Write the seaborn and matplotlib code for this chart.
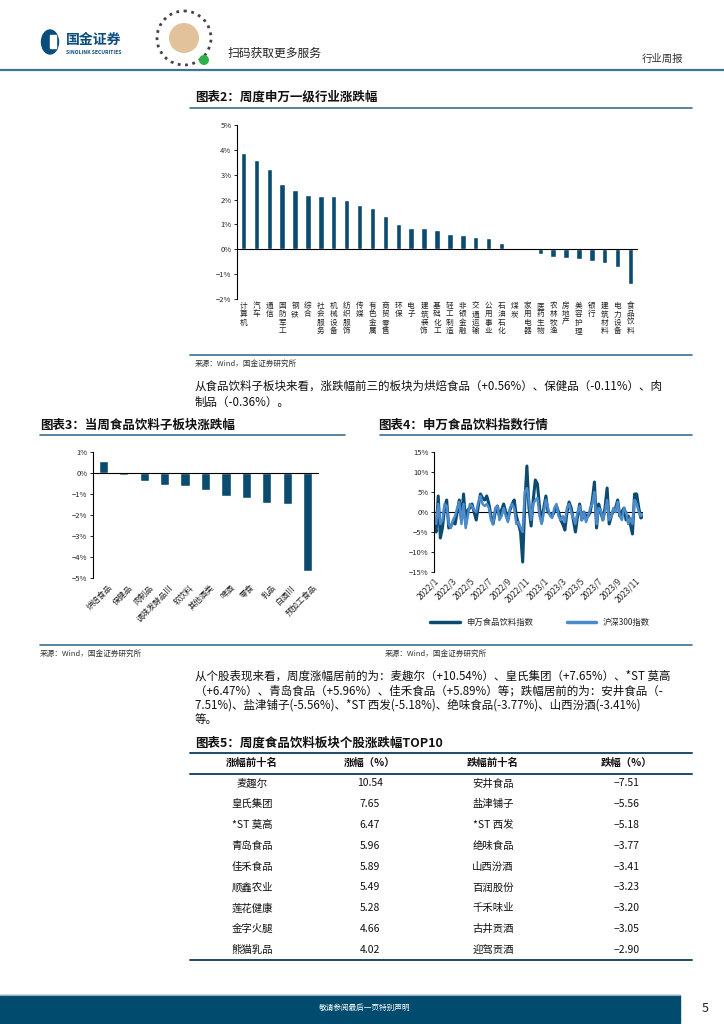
import numpy as np
import pandas as pd
import seaborn as sns
import matplotlib.pyplot as plt
import matplotlib.transforms as mtransforms
from matplotlib.lines import Line2D
from matplotlib.patches import Rectangle, Circle, Ellipse

# ---- 数据 ----
ind_names = ['计算机', '汽车', '通信', '国防军工', '钢铁', '综合', '社会服务', '机械设备',
             '纺织服饰', '传媒', '有色金属', '商贸零售', '环保', '电子', '建筑装饰', '基础化工',
             '轻工制造', '非银金融', '交通运输', '公用事业', '石油石化', '煤炭', '家用电器',
             '医药生物', '农林牧渔', '房地产', '美容护理', '银行', '建筑材料', '电力设备', '食品饮料']
ind_chg = [3.88, 3.61, 3.21, 2.62, 2.40, 2.20, 2.15, 2.13, 2.00, 1.80, 1.68, 1.34, 1.02,
           0.86, 0.85, 0.77, 0.63, 0.58, 0.48, 0.46, 0.27, 0.01, -0.04, -0.20, -0.31, -0.35,
           -0.40, -0.48, -0.55, -0.71, -1.40]

sub_names = ['烘焙食品', '保健品', '肉制品', '调味发酵品Ⅲ', '软饮料', '其他酒类', '啤酒',
             '零食', '乳品', '白酒Ⅲ', '预加工食品']
sub_chg = [0.56, -0.11, -0.36, -0.59, -0.60, -0.79, -1.11, -1.17, -1.43, -1.49, -4.67]

# 周度涨跌幅(%), 2022/1 起
sw_food = [-3, -5, 4, -6.5, -4, 1, 3, -4, -3.5, -2.5, -3, 0, 3, -2, 4.5, -3, 0.5, 1, 2, 0,
           -2, 1.5, 4.5, 3.5, 3, 4, 2, -1, -3, 0, 1.5, -1, 0.5, 2, 0, -2, 0.5, 2, 3, -1,
           -3, -5, -12.5, 2, 11.5, 1, -3.5, 3, 8, 7, 1, -2.5, 1, 4, 0, -0.5, -1, 0, 1.5, 0,
           -2, -3, -4.5, 0, 2.5, 1, -2, -5, -1, 2, -2, 0, -1, -1, 0, 3, 7.5, -4, 2, 0,
           -2, 1, 6, -3, -1, 0.5, 1, 3, -1, 0, 1, -2, -1, -3, -5.5, 4.5, 4.5, 1, -1.5, -1]
hs300 = [-2, -3, 2, -3, -2, 2, 1.5, -3, -4, -2, -1, 1, 2.5, -3, 2, -4, -1, 2, 1.5, 0.5,
         0, 2.5, 4, 2, 1.5, 2, 1, -2, -3, 1, 1.5, -2, -1, 1, -1, -2.5, 1, 2, 1, -3,
         -2.5, -4, -5, 5, 6, 3, -2, 2, 3, 3.5, -1, -3, 0, 3, 1, -1, -1.5, 1, 2, -1,
         -2, -1, -2.5, 1, 2, 0, -1.5, -3, 0, 1.5, -2, 0, -2.5, -1, 1, 2, 5, -3, 1, 0.5,
         -2, 0, 3, -2, -1, 1, 0, 2.5, -1, -2, 1, 0, -3, -1.5, -3, 3, 2, 0, -1, -0.5]
dates = pd.date_range('2022-01-01', periods=len(sw_food), freq='7D')
month_ticks = ['2022-01-01', '2022-03-01', '2022-05-01', '2022-07-01', '2022-09-01', '2022-11-01',
               '2023-01-01', '2023-03-01', '2023-05-01', '2023-07-01', '2023-09-01', '2023-11-01']
month_labels = ['2022/1', '2022/3', '2022/5', '2022/7', '2022/9', '2022/11',
                '2023/1', '2023/3', '2023/5', '2023/7', '2023/9', '2023/11']

gain_names = ['麦趣尔', '皇氏集团', '*ST 莫高', '青岛食品', '佳禾食品', '顺鑫农业', '莲花健康', '金字火腿', '熊猫乳品']
gain_pct = [10.54, 7.65, 6.47, 5.96, 5.89, 5.49, 5.28, 4.66, 4.02]
loss_names = ['安井食品', '盐津铺子', '*ST 西发', '绝味食品', '山西汾酒', '百润股份', '千禾味业', '古井贡酒', '迎驾贡酒']
loss_pct = [-7.51, -5.56, -5.18, -3.77, -3.41, -3.23, -3.20, -3.05, -2.90]

# ---- 样式 ----
sns.set_theme(style='white')
plt.rcParams['font.family'] = ['Noto Sans CJK SC', 'DejaVu Sans']
plt.rcParams['axes.unicode_minus'] = True

DARK = '#0B4B6F'
LIGHT = '#4B8BCB'
RULE = '#3A7090'
NAVY = '#1D4A69'
TXT = 8.3

W, H = 724, 1024
fig = plt.figure(figsize=(7.24, 10.24), dpi=100)
bg = fig.add_axes([0, 0, 1, 1], zorder=0)
bg.set_xlim(0, W)
bg.set_ylim(H, 0)
bg.axis('off')


def hline(x0, x1, y, color=RULE, lw=1.2):
    bg.add_line(Line2D([x0, x1], [y, y], color=color, lw=lw))


def pct(v):
    return f'{v:g}%'.replace('-', '\u2212')


def box(x, y, w, h):
    return fig.add_axes([x / W, 1 - (y + h) / H, w / W, h / H], zorder=2)


# ---- 页眉 ----
bg.add_patch(Ellipse((50, 42), 17, 24, color='#0A4C7C'))
bg.add_patch(Rectangle((50, 35), 6, 13, color='white'))
bg.text(66, 40, '国金证券', fontsize=10, fontweight='bold', color='#0A4C7C', va='center')
bg.text(66, 53, 'SINOLINK SECURITIES', fontsize=3.6, fontweight='bold', color='#0A4C7C', va='center')
bg.add_patch(Circle((184, 38), 27, facecolor='white', edgecolor='#444444', lw=2, ls=':'))
bg.add_patch(Circle((184, 38), 15, facecolor='#E2C29A', edgecolor='none'))
bg.add_patch(Circle((204, 60), 5, facecolor='#2DB04A', edgecolor='none'))
bg.text(228, 53, '扫码获取更多服务', fontsize=8.5, va='center', color='#222222')
bg.text(642, 59, '行业周报', fontsize=7.5, va='center', color='#333333')
hline(0, W, 70, color='#3C7596', lw=1.6)

# ---- 图表2 ----
bg.text(195, 97, '图表2：周度申万一级行业涨跌幅', fontsize=9, fontweight='bold', va='center', color='#111111')
hline(190, 692, 108)

ax2 = box(237, 125, 400, 174)
sns.barplot(x=ind_names, y=ind_chg, color=DARK, saturation=1, width=0.42, ax=ax2)
n2 = len(ind_names)
ax2.set_xlim(-0.5, n2 - 0.5)
ax2.set_ylim(-2, 5)
ax2.set_yticks(range(-2, 6))
ax2.set_yticklabels([pct(v) for v in range(-2, 6)])
ax2.set_xticks(np.arange(n2 + 1) - 0.5)
ax2.set_xticklabels([])
ax2.set_xlabel('')
ax2.set_ylabel('')
for s in ['top', 'right']:
    ax2.spines[s].set_visible(False)
ax2.spines['bottom'].set_position(('data', 0))
for s in ['left', 'bottom']:
    ax2.spines[s].set_color('black')
    ax2.spines[s].set_linewidth(0.8)
ax2.tick_params(axis='x', direction='inout', length=3, width=0.6, color='black')
ax2.tick_params(axis='y', direction='out', length=2.5, width=0.6, color='black', labelsize=5.5, pad=1.5, left=True)
ax2.set_facecolor('none')
blend2 = mtransforms.blended_transform_factory(ax2.transData, ax2.transAxes)
for i, name in enumerate(ind_names):
    ax2.text(i, -0.018, '\n'.join(name), transform=blend2, ha='center', va='top',
             fontsize=5.5, linespacing=1.05, color='#222222')

hline(190, 692, 355)
bg.text(195, 364, '来源：Wind，国金证券研究所', fontsize=5.5, va='center', color='#333333')
bg.text(195, 386, '从食品饮料子板块来看，涨跌幅前三的板块为烘焙食品（+0.56%）、保健品（-0.11%）、肉',
        fontsize=TXT, va='center', color='#111111')
bg.text(195, 402, '制品（-0.36%）。', fontsize=TXT, va='center', color='#111111')

# ---- 图表3 ----
bg.text(40, 425, '图表3：当周食品饮料子板块涨跌幅', fontsize=9, fontweight='bold', va='center', color='#111111')
hline(40, 345, 435)
ax3 = box(93, 452, 225, 126)
sns.barplot(x=sub_names, y=sub_chg, color=DARK, saturation=1, width=0.45, ax=ax3)
n3 = len(sub_names)
ax3.set_xlim(-0.5, n3 - 0.5)
ax3.set_ylim(-5, 1)
ax3.set_yticks(range(-5, 2))
ax3.set_yticklabels([pct(v) for v in range(-5, 2)])
ax3.set_xticks(np.arange(n3 + 1) - 0.5)
ax3.set_xticklabels([])
ax3.set_xlabel('')
ax3.set_ylabel('')
for s in ['top', 'right']:
    ax3.spines[s].set_visible(False)
ax3.spines['bottom'].set_position(('data', 0))
for s in ['left', 'bottom']:
    ax3.spines[s].set_color('black')
    ax3.spines[s].set_linewidth(0.8)
ax3.tick_params(axis='x', direction='inout', length=3, width=0.6, color='black')
ax3.tick_params(axis='y', direction='out', length=2.5, width=0.6, color='black', labelsize=5.5, pad=1.5, left=True)
ax3.set_facecolor('none')
blend3 = mtransforms.blended_transform_factory(ax3.transData, ax3.transAxes)
for i, name in enumerate(sub_names):
    ax3.text(i + 0.2, -0.04, name, transform=blend3, ha='right', va='top', rotation=45,
             rotation_mode='anchor', fontsize=5.8, color='#222222')

# ---- 图表4 ----
bg.text(378, 425, '图表4：申万食品饮料指数行情', fontsize=9, fontweight='bold', va='center', color='#111111')
hline(380, 692, 435)
ax4 = box(434, 452, 209, 120)
sns.lineplot(x=dates, y=sw_food, color=DARK, lw=2.2, ax=ax4, legend=False)
sns.lineplot(x=dates, y=hs300, color=LIGHT, lw=1.8, ax=ax4, legend=False)
ax4.set_xlim(dates[0], dates[-1])
ax4.set_ylim(-15, 15)
ax4.set_yticks(range(-15, 16, 5))
ax4.set_yticklabels([pct(v) for v in range(-15, 16, 5)])
ax4.axhline(0, color='black', lw=0.8, zorder=1)
ax4.set_xticks(pd.to_datetime(month_ticks))
ax4.set_xticklabels(month_labels, rotation=45, ha='right', rotation_mode='anchor', fontsize=6)
ax4.set_xlabel('')
ax4.set_ylabel('')
for s in ['top', 'right', 'bottom']:
    ax4.spines[s].set_visible(False)
ax4.spines['left'].set_color('black')
ax4.spines['left'].set_linewidth(0.8)
ax4.tick_params(axis='x', length=0, pad=3)
ax4.tick_params(axis='y', direction='out', length=2.5, width=0.6, color='black', labelsize=5.5, pad=1.5, left=True)
ax4.set_facecolor('none')
handles = [Line2D([], [], color=DARK, lw=2.5), Line2D([], [], color=LIGHT, lw=2.5)]
ax4.legend(handles, ['申万食品饮料指数', '沪深300指数'], loc='center',
           bbox_to_anchor=(540 / W, 1 - 622 / H), bbox_transform=fig.transFigure,
           ncol=2, frameon=False, fontsize=6, handlelength=3.5, columnspacing=4)

hline(40, 692, 645)
bg.text(40, 654, '来源：Wind，国金证券研究所', fontsize=5.5, va='center', color='#333333')
bg.text(385, 654, '来源：Wind，国金证券研究所', fontsize=5.5, va='center', color='#333333')

# ---- 正文 ----
para2 = ['从个股表现来看，周度涨幅居前的为：麦趣尔（+10.54%）、皇氏集团（+7.65%）、*ST 莫高',
         '（+6.47%）、青岛食品（+5.96%）、佳禾食品（+5.89%）等；跌幅居前的为：安井食品（-',
         '7.51%)、盐津铺子(-5.56%)、*ST 西发(-5.18%)、绝味食品(-3.77%)、山西汾酒(-3.41%)',
         '等。']
for k, line in enumerate(para2):
    bg.text(195, 676 + 14.5 * k, line, fontsize=TXT, va='center', color='#111111')

# ---- 图表5 表格 ----
bg.text(195, 743, '图表5：周度食品饮料板块个股涨跌幅TOP10', fontsize=9, fontweight='bold', va='center', color='#111111')
hline(190, 692, 753, color=NAVY, lw=1.4)
hline(190, 692, 774, color=NAVY, lw=1.4)
cols_x = [252, 370, 493, 627]
for x, h in zip(cols_x, ['涨幅前十名', '涨幅（%）', '跌幅前十名', '跌幅（%）']):
    bg.text(x, 763, h, fontsize=7.5, fontweight='bold', ha='center', va='center', color='#111111')
for i in range(len(gain_names)):
    y = 783.5 + 20.8 * i
    bg.text(cols_x[0], y, gain_names[i], fontsize=7.5, ha='center', va='center', color='#111111')
    bg.text(cols_x[1], y, f'{gain_pct[i]:.2f}', fontsize=7.5, ha='center', va='center', color='#111111')
    bg.text(cols_x[2], y, loss_names[i], fontsize=7.5, ha='center', va='center', color='#111111')
    bg.text(cols_x[3], y, f'{loss_pct[i]:.2f}'.replace('-', '\u2212'), fontsize=7.5, ha='center', va='center', color='#111111')
hline(190, 692, 960, color=NAVY, lw=1.4)

# ---- 页脚 ----
bg.add_patch(Rectangle((0, 995), 680, 28, color='#004B6E'))
hline(0, 680, 995, color='#8FB3C8', lw=0.8)
bg.text(365, 1008, '敬请参阅最后一页特别声明', fontsize=5.5, ha='center', va='center', color='white')
bg.text(705, 1008, '5', fontsize=9, ha='center', va='center', color='#222222')

fig.savefig('out.png', dpi=100)
